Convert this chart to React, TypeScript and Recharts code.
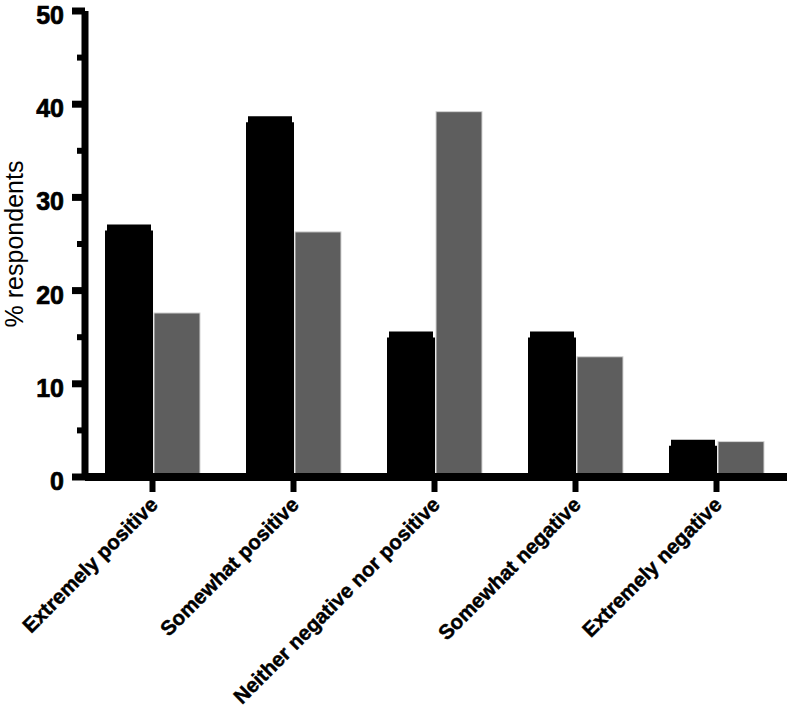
import React from 'react';
import { BarChart, Bar, XAxis, YAxis } from 'recharts';

const categories = [
  'Extremely positive',
  'Somewhat positive',
  'Neither negative nor positive',
  'Somewhat negative',
  'Extremely negative',
];
const seriesBlack = [27.1, 38.7, 15.6, 15.6, 4.0];
const seriesGray = [17.6, 26.3, 39.2, 12.9, 3.8];
const yTicks = [0, 5, 10, 15, 20, 25, 30, 35, 40, 45, 50];

const data = categories.map((c, i) => ({ category: c, black: seriesBlack[i], gray: seriesGray[i] }));

const FONT = '"Liberation Sans", Arial, sans-serif';

const CappedBar = (props: any) => {
  const { x, y, width, height, fill } = props;
  if (!height || height <= 0) return null;
  const cap = Math.min(6, height);
  const inset = 2;
  const x0 = x - 1;
  const w = width + 2;
  const b = y + height;
  const d = `M${x0},${b} L${x0},${y + cap} L${x0 + inset},${y + cap} L${x0 + inset},${y} L${x0 + w - inset},${y} L${x0 + w - inset},${y + cap} L${x0 + w},${y + cap} L${x0 + w},${b} Z`;
  return <path d={d} fill={fill} />;
};

const GrayBar = (props: any) => {
  const { x, y, width, height, fill } = props;
  if (!height || height <= 0) return null;
  return <rect x={x} y={y} width={width} height={height} fill={fill} stroke="#d4d4d4" strokeWidth={1} />;
};

const YTick = (props: any) => {
  const { x, y, payload } = props;
  const v = payload.value;
  const major = v % 10 === 0;
  if (major) {
    return (
      <g>
        <line x1={x - 13} y1={y} x2={x} y2={y} stroke="#000" strokeWidth={7} />
        <text
          x={x - 21}
          y={y}
          dy={13}
          textAnchor="end"
          fontFamily={FONT}
          fontWeight="bold"
          fontSize={25}
          fill="#000"
          stroke="#000"
          strokeWidth={0.7}
        >
          {v}
        </text>
      </g>
    );
  }
  return <line x1={x - 8} y1={y} x2={x} y2={y} stroke="#000" strokeWidth={6} />;
};

const XTick = (props: any) => {
  const { x, y, payload } = props;
  const ax = x + 6.5;
  const ay = y + 14;
  return (
    <text
      x={ax}
      y={ay}
      textAnchor="end"
      transform={`rotate(-45, ${ax}, ${ay})`}
      fontFamily={FONT}
      fontWeight="bold"
      fontSize={20.5}
      fill="#000"
      stroke="#000"
      strokeWidth={0.5}
    >
      {payload.value}
    </text>
  );
};

const YLabel = (props: any) => {
  const { viewBox } = props;
  const tx = viewBox.x + 19.5;
  const ty = viewBox.y + viewBox.height / 2;
  return (
    <text
      x={tx}
      y={ty}
      textAnchor="middle"
      transform={`rotate(-90, ${tx}, ${ty})`}
      fontFamily={FONT}
      fontSize={25}
      fill="#000"
    >
      % respondents
    </text>
  );
};

export default function App() {
  return (
    <div style={{ position: 'absolute', left: 0, top: 0, background: '#fff' }}>
      <BarChart
        width={787}
        height={708}
        data={data}
        margin={{ top: 11, right: 0, bottom: 0, left: 3 }}
        barSize={46}
        barGap={2}
      >
        <XAxis
          dataKey="category"
          height={231}
          padding={{ left: -3, right: 0 }}
          axisLine={{ stroke: '#000', strokeWidth: 8 }}
          tickLine={{ stroke: '#000', strokeWidth: 6 }}
          tickSize={15}
          tickMargin={0}
          interval={0}
          tick={<XTick />}
        />
        <YAxis
          width={82}
          domain={[0, 50]}
          ticks={yTicks}
          interval={0}
          axisLine={{ stroke: '#000', strokeWidth: 7 }}
          tickLine={false}
          tickSize={0}
          tickMargin={0}
          tick={<YTick />}
          label={<YLabel />}
        />
        <Bar dataKey="black" fill="#000000" isAnimationActive={false} shape={<CappedBar />} />
        <Bar dataKey="gray" fill="#5e5e5e" isAnimationActive={false} shape={<GrayBar />} />
      </BarChart>
    </div>
  );
}
